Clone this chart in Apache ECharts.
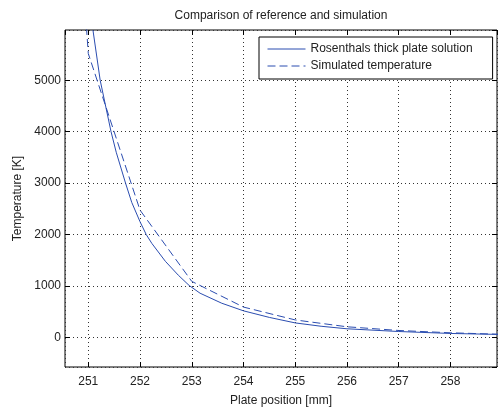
<!DOCTYPE html>
<html>
<head>
<meta charset="utf-8">
<script src="https://cdn.jsdelivr.net/npm/echarts@6/dist/echarts.min.js"></script>
<style>
html,body{margin:0;padding:0;background:#fff;}
#chart{width:498px;height:412px;}
</style>
</head>
<body>
<div id="chart"></div>
<script>
// ---- data ----
var titleText = 'Comparison of reference and simulation';
var xAxisName = 'Plate position [mm]';
var yAxisName = 'Temperature [K]';
var seriesNames = ['Rosenthals thick plate solution', 'Simulated temperature'];

// Rosenthal analytical solution (solid line)
var rosenthalX = [251.09, 251.23, 251.44, 251.54, 251.72, 251.84, 252.0, 252.12, 252.23, 252.49, 252.74, 252.95, 253.16, 253.58, 254.0, 254.5, 255.0, 255.5, 256.0, 257.0, 258.0, 259.0];
var rosenthalT = [5977, 5000, 4000, 3600, 3000, 2625, 2250, 2000, 1826, 1480, 1210, 1010, 860, 665, 517, 389, 282, 217, 168, 115, 77, 57];

// Simulated temperature at mesh nodes (dashed line)
var simX = [250, 251, 252, 253, 254, 255, 256, 257, 258, 259];
var simT = [20000, 5519, 2475, 1090, 590, 340, 207, 135, 90, 60];

// axis extents
var xMin = 250.55, xMax = 258.9;
var yMin = -575, yMax = 5977;

function pairs(xs, ys){ var out=[]; for (var i=0;i<xs.length;i++) out.push([xs[i], ys[i]]); return out; }

var FONT = "'Liberation Sans', Arial, Helvetica, sans-serif";
var TXT = '#222';
var LINE = '#2b4db0';

var chart = echarts.init(document.getElementById('chart'));

function xAx(pos, showLabels){
  return {
    type:'value', position:pos, min:xMin, max:xMax, minInterval:1, maxInterval:1,
    name: showLabels ? xAxisName : '', nameLocation:'middle', nameGap:28,
    nameTextStyle:{color:TXT, fontFamily:FONT, fontSize:12},
    axisLine:{show:false, onZero:false},
    axisTick:{show:true, inside:true, length:5, lineStyle:{color:'#000'}},
    axisLabel:{show:showLabels, color:TXT, fontFamily:FONT, fontSize:12, margin:9,
      showMinLabel:false, showMaxLabel:false, formatter:function(v){return String(v);}},
    splitLine:{show:showLabels, lineStyle:{color:'#333', type:[1,3], width:1}}
  };
}
function yAx(pos, showLabels){
  return {
    type:'value', position:pos, min:yMin, max:yMax, minInterval:1000, maxInterval:1000,
    name: showLabels ? yAxisName : '', nameLocation:'middle', nameGap:37, nameRotate:90,
    nameTextStyle:{color:TXT, fontFamily:FONT, fontSize:12},
    axisLine:{show:false, onZero:false},
    axisTick:{show:true, inside:true, length:5, lineStyle:{color:'#000'}},
    axisLabel:{show:showLabels, color:TXT, fontFamily:FONT, fontSize:12, margin:4,
      showMinLabel:false, showMaxLabel:false, formatter:function(v){return String(v);}},
    splitLine:{show:showLabels, lineStyle:{color:'#333', type:[1,3], width:1}}
  };
}

chart.setOption({
  animation:false,
  backgroundColor:'#fff',
  grid:{left:65, right:1, top:30, bottom:40, show:true, borderColor:'#000', borderWidth:1, backgroundColor:'#fff'},
  xAxis:[xAx('bottom', true), xAx('top', false)],
  yAxis:[yAx('left', true), yAx('right', false)],
  graphic:[{
    type:'text', x:281, y:16,
    style:{text:titleText, fill:TXT, font:'12px ' + FONT, textAlign:'center', textVerticalAlign:'middle'}
  }],
  legend:{
    orient:'vertical', left:259, top:37,
    backgroundColor:'#fff', borderColor:'#000', borderWidth:1,
    padding:[6,20,7,8], itemGap:5, itemWidth:38, itemHeight:14,
    textStyle:{color:TXT, fontFamily:FONT, fontSize:12},
    itemStyle:{opacity:0},
    lineStyle:{width:1},
    data:seriesNames
  },
  series:[
    {name:seriesNames[0], type:'line', xAxisIndex:0, yAxisIndex:0, data:pairs(rosenthalX, rosenthalT),
     showSymbol:false, symbol:'none', clip:true, lineStyle:{color:LINE, width:1, type:'solid'}, itemStyle:{color:LINE}},
    {name:seriesNames[1], type:'line', xAxisIndex:0, yAxisIndex:0, data:pairs(simX, simT),
     showSymbol:false, symbol:'none', clip:true, lineStyle:{color:LINE, width:1, type:[8,4]}, itemStyle:{color:LINE}}
  ]
});
</script>
</body>
</html>
